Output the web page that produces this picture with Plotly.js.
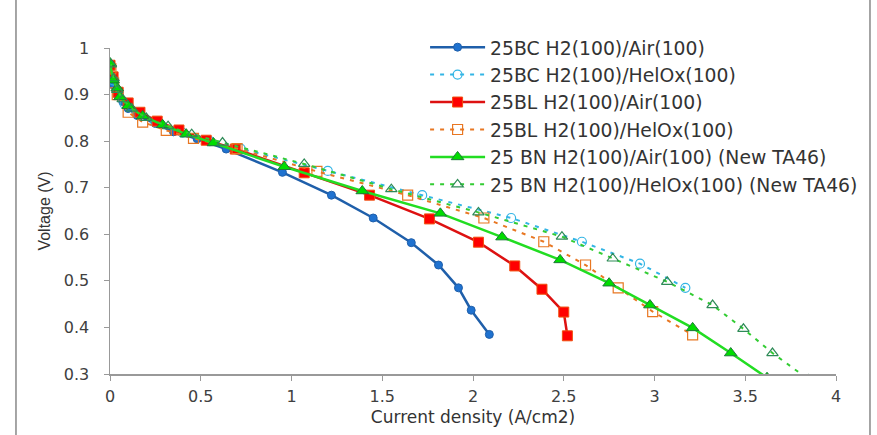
<!DOCTYPE html>
<html>
<head>
<meta charset="utf-8">
<script src="https://cdn.plot.ly/plotly-3.0.1.min.js"></script>
<style>html,body{margin:0;padding:0;background:#fff;}#chart{width:877px;height:435px;}</style>
</head>
<body>
<div id="chart"></div>
<script>
// 25BC H2(100)/Air(100)
var bcAirX = [0.005, 0.01, 0.02, 0.04, 0.07, 0.1, 0.15, 0.25, 0.35, 0.48, 0.64, 0.95, 1.22, 1.45, 1.66, 1.81, 1.92, 1.99, 2.09];
var bcAirY = [0.96, 0.94, 0.92, 0.90, 0.885, 0.87, 0.855, 0.838, 0.82, 0.805, 0.783, 0.733, 0.684, 0.635, 0.582, 0.534, 0.485, 0.437, 0.385];
// 25BC H2(100)/HelOx(100)
var bcHeX = [0.005, 0.02, 0.04, 0.08, 0.15, 0.25, 0.4, 0.55, 0.72, 1.20, 1.72, 2.21, 2.60, 2.92, 3.17];
var bcHeY = [0.96, 0.93, 0.905, 0.88, 0.86, 0.84, 0.818, 0.80, 0.784, 0.736, 0.684, 0.635, 0.584, 0.537, 0.485];
// 25BL H2(100)/Air(100)
var blAirX = [0.0, 0.017, 0.045, 0.1, 0.165, 0.26, 0.38, 0.53, 0.69, 1.07, 1.43, 1.76, 2.03, 2.23, 2.38, 2.50, 2.52];
var blAirY = [0.963, 0.938, 0.905, 0.882, 0.862, 0.843, 0.824, 0.802, 0.783, 0.732, 0.684, 0.633, 0.583, 0.532, 0.482, 0.433, 0.382];
// 25BL H2(100)/HelOx(100)
var blHeX = [0.005, 0.02, 0.04, 0.1, 0.18, 0.31, 0.46, 0.70, 1.14, 1.64, 2.06, 2.39, 2.62, 2.80, 2.99, 3.21];
var blHeY = [0.955, 0.925, 0.90, 0.862, 0.841, 0.823, 0.806, 0.784, 0.735, 0.684, 0.635, 0.584, 0.534, 0.485, 0.434, 0.384];
// 25 BN H2(100)/Air(100) (New TA46)
var bnAirX = [0.0, 0.017, 0.04, 0.055, 0.1, 0.18, 0.29, 0.42, 0.57, 0.96, 1.39, 1.82, 2.16, 2.48, 2.75, 2.975, 3.21, 3.42, 3.62];
var bnAirY = [0.968, 0.931, 0.914, 0.895, 0.876, 0.854, 0.835, 0.815, 0.796, 0.745, 0.693, 0.645, 0.594, 0.545, 0.495, 0.448, 0.399, 0.345, 0.292];
// 25 BN H2(100)/HelOx(100) (New TA46)
var bnHeX = [0.005, 0.02, 0.04, 0.07, 0.12, 0.2, 0.32, 0.45, 0.62, 1.07, 1.55, 2.03, 2.49, 2.77, 3.07, 3.32, 3.49, 3.65, 3.85];
var bnHeY = [0.965, 0.935, 0.91, 0.89, 0.87, 0.85, 0.832, 0.815, 0.797, 0.751, 0.697, 0.647, 0.595, 0.548, 0.498, 0.448, 0.397, 0.345, 0.288];

var names = [
  "25BC H2(100)/Air(100)",
  "25BC H2(100)/HelOx(100)",
  "25BL H2(100)/Air(100)",
  "25BL H2(100)/HelOx(100)",
  "25 BN H2(100)/Air(100) (New TA46)",
  "25 BN H2(100)/HelOx(100) (New TA46)"
];
var xTicks = [0, 0.5, 1, 1.5, 2, 2.5, 3, 3.5, 4];
var yTicks = [0.3, 0.4, 0.5, 0.6, 0.7, 0.8, 0.9, 1];

var dashPat = "4px,6px";
var traces = [
  {x: bcAirX, y: bcAirY, name: names[0], legendgroup: "g0", mode: "lines+markers",
   line: {color: "#1F5FAA", width: 2.5},
   marker: {symbol: "circle", size: 8, color: "#1F72D0", line: {color: "#1F5FAA", width: 1}}},
  {x: bcHeX, y: bcHeY, name: names[1], legendgroup: "g1", mode: "lines+markers",
   line: {color: "#33B5E5", width: 2, dash: dashPat},
   marker: {symbol: "circle-open", size: 9, color: "#33B5E5", line: {width: 1.2}}},
  {x: blAirX, y: blAirY, name: names[2], legendgroup: "g2", mode: "lines+markers",
   line: {color: "#DD1111", width: 2.5},
   marker: {symbol: "square", size: 10, color: "#FF0000", line: {color: "#F05010", width: 1}}},
  {x: blHeX, y: blHeY, name: names[3], legendgroup: "g3", mode: "lines+markers",
   line: {color: "#E87722", width: 2, dash: dashPat},
   marker: {symbol: "square-open", size: 10, color: "#E87722", line: {width: 1.2}}},
  {x: bnAirX, y: bnAirY, name: names[4], legendgroup: "g4", mode: "lines+markers",
   line: {color: "#22DD22", width: 2.5},
   marker: {symbol: "triangle-up", size: 11, color: "#00DD00", line: {color: "#1E7A3A", width: 1}}},
  {x: bnHeX, y: bnHeY, name: names[5], legendgroup: "g5", mode: "lines+markers",
   line: {color: "#33CC33", width: 2, dash: dashPat},
   marker: {symbol: "triangle-up-open", size: 10, color: "#2E8B57", line: {width: 1.2}}}
];

var layout = {
  width: 877, height: 435,
  margin: {l: 110, r: 41, t: 48, b: 61},
  paper_bgcolor: "#ffffff", plot_bgcolor: "#ffffff",
  font: {family: "DejaVu Sans, sans-serif", color: "#404040", size: 16},
  showlegend: true,
  legend: {x: 0.434, y: 1.06, xanchor: "left", yanchor: "top",
           bgcolor: "rgba(0,0,0,0)", font: {size: 18.8, color: "#333333"},
           itemwidth: 55, tracegroupgap: 2, traceorder: "normal"},
  xaxis: {range: [0, 4], tickvals: xTicks, ticktext: xTicks.map(String),
          showgrid: false, zeroline: false, showline: true, linecolor: "#999999", linewidth: 1.5,
          ticks: "outside", ticklen: 5, tickcolor: "#999999", tickfont: {size: 16},
          ticklabelstandoff: 2,
          title: {text: "Current density (A/cm2)", font: {size: 17, color: "#333333"}, standoff: 6}},
  yaxis: {range: [0.3, 1], tickvals: yTicks, ticktext: yTicks.map(String),
          showgrid: false, zeroline: false, showline: true, linecolor: "#999999", linewidth: 1.5,
          ticks: "outside", ticklen: 5, tickcolor: "#999999", tickfont: {size: 16},
          ticklabelstandoff: 11,
          title: {text: "Voltage (V)", font: {family: "Liberation Sans, Arial, sans-serif", size: 16, color: "#333333"}, standoff: 9}},
  shapes: [
    {type: "line", xref: "paper", yref: "paper", x0: -0.1295, x1: -0.1295, y0: -0.21, y1: 1.17,
     line: {color: "#888888", width: 1.5}},
    {type: "line", xref: "paper", yref: "paper", x0: 1.0468, x1: 1.0468, y0: -0.21, y1: 1.17,
     line: {color: "#888888", width: 1.5}}
  ]
};

Plotly.newPlot("chart", traces, layout, {displayModeBar: false, staticPlot: true});
</script>
</body>
</html>
